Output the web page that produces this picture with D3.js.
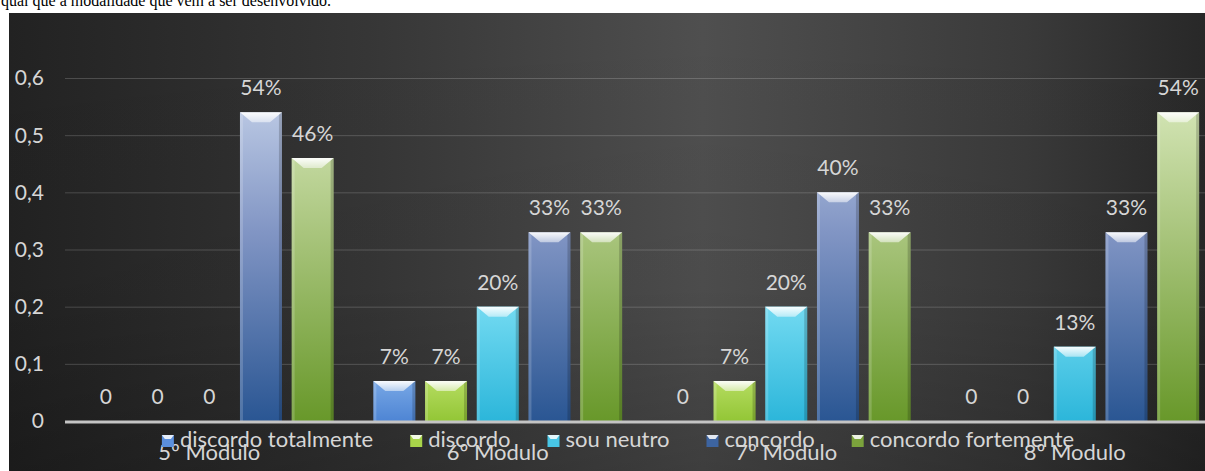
<!DOCTYPE html>
<html>
<head>
<meta charset="utf-8">
<script src="https://cdn.jsdelivr.net/npm/d3@7"></script>
<style>
  body { margin: 0; background: #fff; }
  svg { display: block; }
</style>
</head>
<body>
<div id="visualization"></div>
<script>
// data
const categories = ["5º Modulo", "6º Modulo", "7º Modulo", "8º Modulo"];
const seriesNames = ["discordo totalmente", "discordo", "sou neutro", "concordo", "concordo fortemente"];
const discordoTotalmente = [0, 0.07, 0, 0];
const discordo = [0, 0.07, 0.07, 0];
const souNeutro = [0, 0.20, 0.20, 0.13];
const concordo = [0.54, 0.33, 0.40, 0.33];
const concordoFortemente = [0.46, 0.33, 0.33, 0.54];
const yTicks = [0, 0.1, 0.2, 0.3, 0.4, 0.5, 0.6];

const seriesValues = [discordoTotalmente, discordo, souNeutro, concordo, concordoFortemente];

// gradient stops per series (top of plot -> axis)
const seriesStops = [
    [["0", "#e2eeff"], ["0.8", "#96c0f2"], ["1", "#4e85d4"]],
    [["0", "#f4ffd6"], ["0.8", "#cdeb7e"], ["1", "#93c636"]],
    [["0", "#dcf9ff"], ["0.6", "#80e1f6"], ["1", "#2cb6da"]],
    [["0", "#cdd8ee"], ["0.1", "#b8c6e2"], ["0.45", "#8195c4"], ["1", "#2a5693"]],
    [["0", "#e4efcc"], ["0.1", "#d1e3b2"], ["0.45", "#a9c57d"], ["1", "#68982a"]]
];
const legendColors = ["#5b8fdc", "#a8d44a", "#48c6e6", "#3d64a0", "#7ba33c"];

const width = 1205, height = 471;
const plotLeft = 65, plotRight = 1219, plotTop = 78, plotBottom = 421;
const font = "Lato, 'Open Sans', sans-serif";
const textColor = "#d6d6d6";

const svg = d3.select("#visualization")
    .append("svg")
    .attr("width", width)
    .attr("height", height);

const defs = svg.append("defs");

// background gradient
const bg = defs.append("linearGradient").attr("id", "bg")
    .attr("x1", "0").attr("x2", "1").attr("y1", "0").attr("y2", "0");
bg.append("stop").attr("offset", "0").attr("stop-color", "#222222");
bg.append("stop").attr("offset", "0.3").attr("stop-color", "#363636");
bg.append("stop").attr("offset", "0.58").attr("stop-color", "#4f4f4f");
bg.append("stop").attr("offset", "0.85").attr("stop-color", "#3a3a3a");
bg.append("stop").attr("offset", "1").attr("stop-color", "#282828");

const shade = defs.append("linearGradient").attr("id", "shade")
    .attr("x1", "0").attr("x2", "0").attr("y1", "0").attr("y2", "1");
shade.append("stop").attr("offset", "0").attr("stop-color", "#000").attr("stop-opacity", 0);
shade.append("stop").attr("offset", "0.6").attr("stop-color", "#000").attr("stop-opacity", 0.04);
shade.append("stop").attr("offset", "1").attr("stop-color", "#000").attr("stop-opacity", 0.22);

seriesStops.forEach(function(stops, i) {
    let g = defs.append("linearGradient").attr("id", "bar" + i)
        .attr("gradientUnits", "userSpaceOnUse")
        .attr("x1", 0).attr("x2", 0).attr("y1", plotTop).attr("y2", plotBottom);
    stops.forEach(function(s) {
        g.append("stop").attr("offset", s[0]).attr("stop-color", s[1]);
    });
});

const bevel = defs.append("linearGradient").attr("id", "bevel")
    .attr("x1", "0").attr("x2", "0").attr("y1", "0").attr("y2", "1");
bevel.append("stop").attr("offset", "0").attr("stop-color", "#fff").attr("stop-opacity", 0.95);
bevel.append("stop").attr("offset", "1").attr("stop-color", "#fff").attr("stop-opacity", 0.5);

// cut-off line of document text above the chart
svg.append("text")
    .attr("x", 1).attr("y", 6)
    .attr("font-family", "'Liberation Serif', serif")
    .attr("font-size", 16)
    .attr("fill", "#000")
    .text("qual que a modalidade que vem a ser desenvolvido.");

svg.append("rect")
    .attr("x", 9).attr("y", 13)
    .attr("width", width - 9).attr("height", height - 13)
    .attr("fill", "url(#bg)");
svg.append("rect")
    .attr("x", 9).attr("y", 13)
    .attr("width", width - 9).attr("height", height - 13)
    .attr("fill", "url(#shade)");

// scales
const x0 = d3.scaleBand().domain(categories).range([plotLeft, plotRight]);
const x1 = d3.scaleBand().domain(d3.range(seriesNames.length))
    .range([0, x0.bandwidth()])
    .paddingInner(0.188)
    .paddingOuter(0.384);
const y = d3.scaleLinear().domain([0, 0.6]).range([plotBottom, plotTop]);

// gridlines
svg.append("g")
    .selectAll("line")
    .data(yTicks.filter(d => d > 0))
    .enter()
    .append("line")
    .attr("x1", plotLeft).attr("x2", width)
    .attr("y1", d => y(d) + 0.5).attr("y2", d => y(d) + 0.5)
    .attr("stroke", "#ffffff").attr("stroke-opacity", 0.18);

// y axis labels
const yAxis = d3.axisLeft(y)
    .tickValues(yTicks)
    .tickSize(0)
    .tickPadding(0)
    .tickFormat(d => d === 0 ? "0" : d3.format(".1f")(d).replace(".", ","));
const yAxisG = svg.append("g")
    .attr("transform", "translate(44,0)")
    .call(yAxis);
yAxisG.select(".domain").remove();
yAxisG.selectAll("text")
    .attr("font-family", font)
    .attr("font-size", 21)
    .attr("fill", textColor)
    .attr("dy", "0.33em");

// flatten to one record per bar
let bars = [];
categories.forEach(function(c, ci) {
    seriesValues.forEach(function(vals, si) {
        bars.push({ cat: c, s: si, v: vals[ci] });
    });
});

const barG = svg.append("g");
const bw = x1.bandwidth();

let barSel = barG.selectAll("g.bar")
    .data(bars.filter(d => d.v > 0))
    .enter()
    .append("g")
    .attr("class", "bar")
    .attr("transform", d => "translate(" + (x0(d.cat) + x1(d.s)) + ",0)");

barSel.append("rect")
    .attr("x", 0)
    .attr("y", d => y(d.v))
    .attr("width", bw)
    .attr("height", d => plotBottom - y(d.v))
    .attr("fill", d => "url(#bar" + d.s + ")");

// side shading of the bevel
barSel.append("rect")
    .attr("x", 0).attr("y", d => y(d.v))
    .attr("width", 3).attr("height", d => plotBottom - y(d.v))
    .attr("fill", "#fff").attr("fill-opacity", 0.18);
barSel.append("rect")
    .attr("x", bw - 3).attr("y", d => y(d.v))
    .attr("width", 3).attr("height", d => plotBottom - y(d.v))
    .attr("fill", "#000").attr("fill-opacity", 0.18);

// top bevel highlight
barSel.append("path")
    .attr("d", function(d) {
        let t = y(d.v);
        return "M0," + t + "H" + bw + "L" + (bw - 12) + "," + (t + 10) + "H12Z";
    })
    .attr("fill", "url(#bevel)");

// value labels
barG.selectAll("text.val")
    .data(bars)
    .enter()
    .append("text")
    .attr("class", "val")
    .attr("x", d => x0(d.cat) + x1(d.s) + bw / 2)
    .attr("y", d => y(d.v) - 17)
    .attr("text-anchor", "middle")
    .attr("font-family", font)
    .attr("font-size", 21)
    .attr("fill", textColor)
    .text(d => d.v === 0 ? "0" : d3.format(".0%")(d.v));

// axis line
svg.append("line")
    .attr("x1", plotLeft).attr("x2", width)
    .attr("y1", plotBottom + 1).attr("y2", plotBottom + 1)
    .attr("stroke", "#c4c4c4")
    .attr("stroke-width", 3);

// category labels
svg.append("g")
    .selectAll("text")
    .data(categories)
    .enter()
    .append("text")
    .attr("x", d => x0(d) + x0.bandwidth() / 2)
    .attr("y", 460)
    .attr("text-anchor", "middle")
    .attr("font-family", font)
    .attr("font-size", 22)
    .attr("fill", textColor)
    .text(d => d);

// legend, laid out left to right and centred
const legend = svg.append("g");
let items = legend.selectAll("g")
    .data(seriesNames)
    .enter()
    .append("g");

items.append("rect")
    .attr("x", 0).attr("y", 435)
    .attr("width", 12).attr("height", 12)
    .attr("fill", (d, i) => legendColors[i]);
items.append("path")
    .attr("d", "M0,435H12L9,439H3Z")
    .attr("fill", "#fff").attr("fill-opacity", 0.85);
items.append("text")
    .attr("x", 18).attr("y", 447)
    .attr("font-family", font)
    .attr("font-size", 22)
    .attr("fill", textColor)
    .text(d => d);

let offs = [], cur = 0;
items.each(function() {
    offs.push(cur);
    cur += 18 + d3.select(this).select("text").node().getComputedTextLength() + 37;
});
const legendWidth = cur - 37;
const legendStart = 618 - legendWidth / 2;
items.attr("transform", (d, i) => "translate(" + (legendStart + offs[i]) + ",0)");
</script>
</body>
</html>
